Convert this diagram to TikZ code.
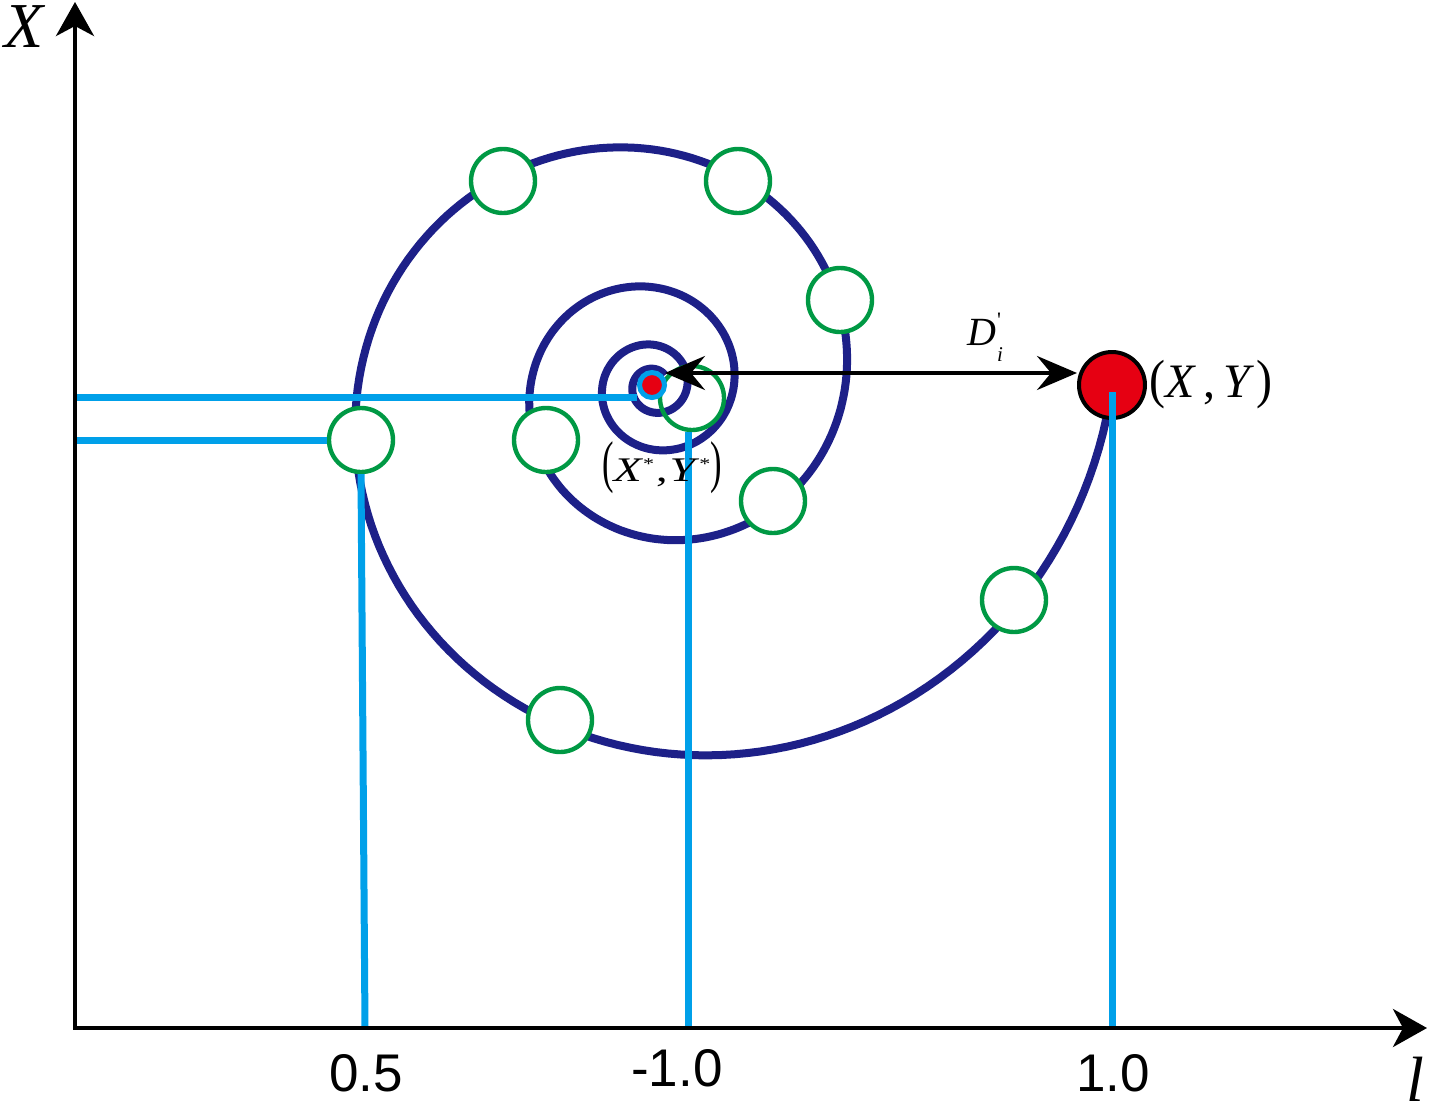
\documentclass[tikz,border=0pt]{standalone}
\usepackage{fontspec}
\usepackage{graphicx}
\setmainfont{Liberation Serif}
\newfontfamily\arialf{Liberation Sans}
\newfontfamily\rawserif{Liberation Serif}
\usetikzlibrary{arrows.meta}
\definecolor{spiralblue}{HTML}{1D2088}
\definecolor{cyanl}{HTML}{00A0E9}
\definecolor{greenc}{HTML}{009944}
\definecolor{redc}{HTML}{E60012}
\tikzset{
 spiral/.style={draw=spiralblue, line width=4pt},
 gc/.style={circle, draw=greenc, fill=white, line width=2.2pt, minimum size=32pt, inner sep=0pt},
 cl/.style={draw=cyanl, line width=3.5pt},
 axisline/.style={line width=2pt, line join=miter, {Stealth[length=17pt,width=19pt,inset=5pt]}-{Stealth[length=17pt,width=19pt,inset=5pt]}},
 darr/.style={line width=2pt, {Stealth[length=20pt,width=17pt,inset=7pt]}-{Stealth[length=20pt,width=17pt,inset=7pt]}},
 num/.style={font=\arialf\fontsize{26.5}{30}\selectfont, inner sep=0pt},
 lab/.style={inner sep=0pt},
}
\begin{document}
\begin{tikzpicture}[x=0.5pt,y=-0.5pt]
\useasboundingbox (0,0) rectangle (1432,1115);
% spiral
\draw[spiral] plot[domain=0:1395,samples=700,variable=\t]
  ({654+458*exp(-0.002419*\t)*cos(\t)},{386+455*exp(-0.002419*\t)*sin(\t)});
% green circles
\node[gc] (g1) at (503,181) {};
\node[gc] (g2) at (738,181) {};
\node[gc] (g3) at (840,300) {};
\node[gc] (g4) at (361,440) {};
\node[gc] (g5) at (546,440) {};
\node[gc] (g6) at (773,501) {};
\node[gc] (g7) at (1014,600) {};
\node[gc] (g8) at (560,720) {};
\node[gc, fill=none] (g9) at (692,398) {};
% axes coordinates
\coordinate (O) at (75,1028);
\coordinate (Ytip) at (75,2);
\coordinate (Xtip) at (1427,1028);
\coordinate (h1) at (75,397);
\coordinate (h2) at (75,440);
\coordinate (v1) at (365,1028);
\coordinate (v2) at (688,1028);
\coordinate (v3) at (1112,1028);
\coordinate (v3top) at (1112,392);
% centre point
\node[circle, fill=redc, draw=cyanl, line width=2.5pt, minimum size=12.5pt, inner sep=0pt] (ctr) at (652,385) {};
% red point
\node[circle, fill=redc, draw=black, line width=2pt, minimum size=33pt, inner sep=0pt] (P) at (1112,385) {};
% cyan lines
\draw[cl] (h1) -- (h1 -| ctr.west);
\draw[cl] (h2) -- (g4.west);
\draw[cl] (g4.south) -- (v1);
\draw[cl] (v2) -- (v2 |- g9.south);
\draw[cl] (v3) -- (v3top);
% distance arrow
\coordinate (arrL) at (665,373);
\draw[darr] (arrL) -- (arrL -| P.west);
% axes
\draw[axisline] (Ytip) -- (O) -- (Xtip);
% labels
\node[lab, font=\fontsize{32}{36}\selectfont\itshape] (Xlab) at (24,27) {X};
\node[lab, font=\fontsize{32}{34}\selectfont\itshape] (llab) at (1415,1079) {l};
\node[num] (t1) at (366,1073) {0.5};
\node[num] (t2) at (677,1068) {-1.0};
\node[num] (t3) at (1113,1073) {1.0};
\node[lab, font=\fontsize{24}{28}\selectfont] (xy) at (1211,385)
  {\scalebox{1}[1.12]{(}\textit{X}\,,\,\textit{Y}\kern1pt\scalebox{1}[1.12]{)}};
\node[lab, font=\fontsize{23}{26}\selectfont] (xys) at (662,468)
  {\scalebox{0.75}[1.25]{(}\scalebox{1}[0.75]{\textit{X}\raisebox{8pt}{\fontsize{11}{11}\selectfont *}\kern1pt,\kern1pt\textit{Y}\raisebox{8pt}{\fontsize{11}{11}\selectfont *}}\scalebox{0.75}[1.25]{)}};
\node[lab, font=\fontsize{20}{24}\selectfont] (dlab) at (985,337)
  {\textit{D}\kern0.5pt\rlap{\raisebox{9pt}{\rawserif\fontsize{11}{11}\selectfont '}}\raisebox{-8pt}{\fontsize{10.5}{10.5}\selectfont\textit{i}}};
\end{tikzpicture}
\end{document}
